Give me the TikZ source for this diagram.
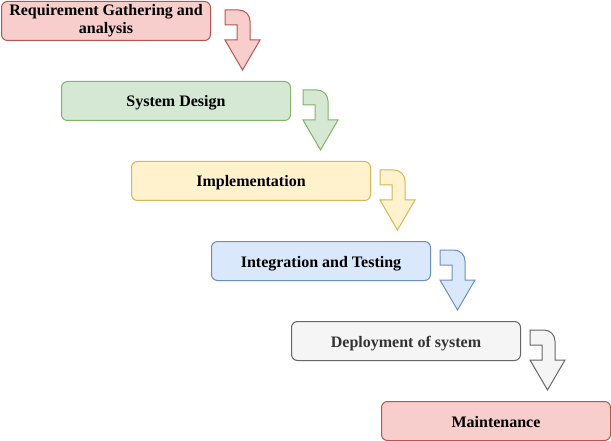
\documentclass[tikz,border=0pt]{standalone}
\usepackage{fontspec}
\setmainfont{Liberation Serif}
\definecolor{redF}{HTML}{F8CECC}\definecolor{redD}{HTML}{B85450}
\definecolor{grnF}{HTML}{D5E8D4}\definecolor{grnD}{HTML}{82B366}
\definecolor{yelF}{HTML}{FFF2CC}\definecolor{yelD}{HTML}{D6B656}
\definecolor{bluF}{HTML}{DAE8FC}\definecolor{bluD}{HTML}{6C8EBF}
\definecolor{gryF}{HTML}{F5F5F5}\definecolor{gryD}{HTML}{666666}
\definecolor{gryT}{HTML}{333333}
\tikzset{
  phase/.style={draw, rounded corners=6pt, line width=1pt, anchor=north west,
    minimum height=39pt, inner sep=0pt, align=center,
    font=\fontsize{16}{18}\selectfont\bfseries},
  one/.style={text height=12pt, text depth=0pt},
  redp/.style={phase, fill=redF, draw=redD},
  grnp/.style={phase, fill=grnF, draw=grnD},
  yelp/.style={phase, fill=yelF, draw=yelD},
  blup/.style={phase, fill=bluF, draw=bluD},
  gryp/.style={phase, fill=gryF, draw=gryD, text=gryT},
  bent/.style={line width=1pt, line join=miter},
}
\newcommand\bentarr[4]{% #1 x, #2 y, #3 fill, #4 draw
  \draw[bent, fill=#3, draw=#4, shift={(#1,#2)}]
    (0,0) -- (14,0) arc[start angle=-90, end angle=0, radius=11] -- (25,30)
    -- (35,30) -- (17.5,60) -- (0,30) -- (12,30) -- (12,15) -- (0,15) -- cycle;}
\begin{document}
\begin{tikzpicture}[x=1pt,y=-1pt]
\useasboundingbox (0,0) rectangle (611,441);
\node[redp, minimum width=209pt] (req) at (1,1) {Requirement Gathering and\\analysis};
\node[grnp, one, minimum width=229pt] (des) at (61,81) {System Design};
\node[yelp, one, minimum width=239pt] (imp) at (131,161) {Implementation};
\node[blup, one, minimum width=219pt] (int) at (211,241) {Integration and Testing};
\node[gryp, one, minimum width=229pt] (dep) at (291,321) {Deployment of system};
\node[redp, one, minimum width=229pt] (mai) at (381,401) {Maintenance};
\bentarr{225}{10}{redF}{redD}
\bentarr{303}{90}{grnF}{grnD}
\bentarr{380}{170}{yelF}{yelD}
\bentarr{440}{250}{bluF}{bluD}
\bentarr{530}{330}{gryF}{gryD}
\end{tikzpicture}
\end{document}
